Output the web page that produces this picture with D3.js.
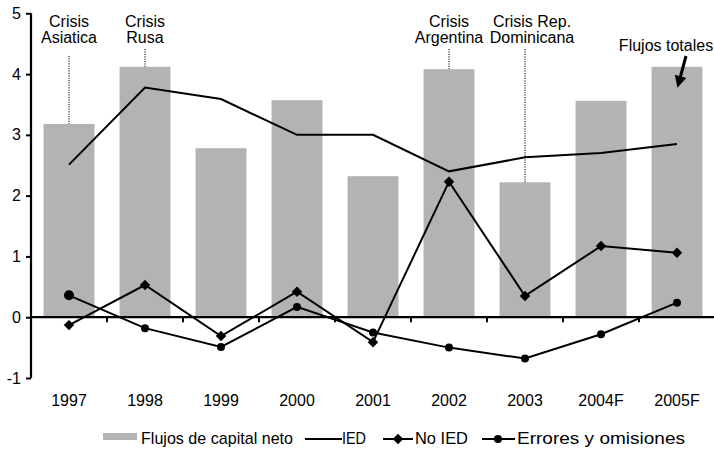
<!DOCTYPE html>
<html>
<head>
<meta charset="utf-8">
<script src="https://cdn.jsdelivr.net/npm/d3@7"></script>
<style>
  html, body { margin: 0; padding: 0; background: #fff; }
  text { font-family: "Liberation Sans", Arial, Helvetica, sans-serif; fill: #000; }
</style>
</head>
<body>
<svg id="chart" width="714" height="452"></svg>
<script>
const categories = ["1997", "1998", "1999", "2000", "2001", "2002", "2003", "2004F", "2005F"];
const flujosNetos = [3.18, 4.12, 2.78, 3.57, 2.32, 4.08, 2.22, 3.56, 4.12];
const ied = [2.51, 3.78, 3.59, 3.00, 3.00, 2.40, 2.63, 2.70, 2.85];
const noIed = [-0.13, 0.53, -0.31, 0.42, -0.41, 2.23, 0.35, 1.17, 1.06];
const errores = [0.36, -0.18, -0.49, 0.17, -0.25, -0.50, -0.68, -0.28, 0.24];
const yTicks = [-1, 0, 1, 2, 3, 4, 5];
const crisisCats = ["1997", "1998", "2002", "2003"];
const crisisLabels = [["Crisis", "Asiatica"], ["Crisis", "Rusa"], ["Crisis", "Argentina"], ["Crisis Rep.", "Dominicana"]];
const legendLabels = ["Flujos de capital neto", "IED", "No IED", "Errores y omisiones"];
const arrowLabel = "Flujos totales";

const FONT = "'Liberation Sans', Arial, Helvetica, sans-serif";
const svg = d3.select("#chart");
const x = d3.scaleBand().domain(categories).range([31, 715]).paddingInner(0.33).paddingOuter(0.165);
const y = d3.scaleLinear().domain([-1, 5]).range([378, 13.3]);
const cx = c => x(c) + x.bandwidth() / 2;

// bars
svg.append("g").selectAll("rect").data(categories).join("rect")
  .attr("x", d => x(d)).attr("width", x.bandwidth())
  .attr("y", (d, i) => y(Math.max(0, flujosNetos[i])))
  .attr("height", (d, i) => Math.abs(y(flujosNetos[i]) - y(0)))
  .attr("fill", "#b3b3b3");

// y axis
const yAxis = svg.append("g").attr("transform", "translate(31,0)")
  .call(d3.axisLeft(y).tickValues(yTicks).tickSize(5).tickPadding(5).tickFormat(d => String(d)));
yAxis.select(".domain").attr("stroke-width", 2.2).attr("d", `M0,${y(5)}V${y(-1)}`);
yAxis.selectAll(".tick line").attr("stroke-width", 2);
yAxis.selectAll(".tick text").attr("font-size", 16).attr("font-family", FONT);

// x axis at zero
const xAxis = svg.append("g").attr("transform", `translate(0,${y(0)})`)
  .call(d3.axisBottom(x).tickSize(0).tickPadding(77));
xAxis.select(".domain").attr("stroke-width", 2.2).attr("d", "M31,0H714");
xAxis.selectAll(".tick text").attr("font-size", 16).attr("font-family", FONT);
// boundary ticks
const step = x.step();
svg.append("g").selectAll("line").data(categories.slice(1)).join("line")
  .attr("x1", d => x(d) - x.paddingInner() * step / 2)
  .attr("x2", d => x(d) - x.paddingInner() * step / 2)
  .attr("y1", y(0)).attr("y2", y(0) + 5)
  .attr("stroke", "#000").attr("stroke-width", 2);

// crisis annotations
crisisCats.forEach((c, i) => {
  const idx = categories.indexOf(c);
  const topY = i === 0 ? 56 : 49;
  svg.append("line").attr("x1", cx(c)).attr("x2", cx(c))
    .attr("y1", topY).attr("y2", y(flujosNetos[idx]))
    .attr("stroke", "#000").attr("stroke-width", 1).attr("stroke-dasharray", "1.2,1.2");
  const t = svg.append("text").attr("text-anchor", "middle").attr("font-size", 16);
  crisisLabels[i].forEach((ln, j) => {
    t.append("tspan").attr("x", cx(c) + (i === 3 ? 7 : 0)).attr("y", 27 + j * 16).text(ln);
  });
});

// lines
const lineGen = d3.line().x((d, i) => cx(categories[i])).y(d => y(d));
[ied, noIed, errores].forEach(s => {
  svg.append("path").datum(s).attr("d", lineGen).attr("fill", "none").attr("stroke", "#000").attr("stroke-width", 2);
});

const diamond = d3.symbol().type(d3.symbolDiamond2).size(70);
svg.append("g").selectAll("path").data(noIed).join("path")
  .attr("d", diamond)
  .attr("transform", (d, i) => `translate(${cx(categories[i])},${y(d)})`)
  .attr("fill", "#000");
svg.append("g").selectAll("circle").data(errores).join("circle")
  .attr("cx", (d, i) => cx(categories[i])).attr("cy", d => y(d))
  .attr("r", (d, i) => i === 0 ? 5 : 4).attr("fill", "#000");

// Flujos totales label + arrow
svg.append("defs").append("marker").attr("id", "ah").attr("viewBox", "0 0 10 10")
  .attr("refX", 5).attr("refY", 5).attr("markerWidth", 4).attr("markerHeight", 4).attr("orient", "auto")
  .append("path").attr("d", "M0,0L10,5L0,10z").attr("fill", "#000");
svg.append("text").attr("x", 666).attr("y", 51).attr("text-anchor", "middle").attr("font-size", 16).text(arrowLabel);
svg.append("line").attr("x1", 686).attr("y1", 56).attr("x2", 679).attr("y2", 82)
  .attr("stroke", "#000").attr("stroke-width", 3).attr("marker-end", "url(#ah)");

// legend
const ly = 439;
const lg = svg.append("g").attr("font-size", 17);
lg.append("rect").attr("x", 103).attr("y", ly - 6).attr("width", 34).attr("height", 7).attr("fill", "#b3b3b3");
lg.append("text").attr("x", 141).attr("y", 444).attr("textLength", 152).attr("lengthAdjust", "spacingAndGlyphs").text(legendLabels[0]);
lg.append("line").attr("x1", 305).attr("x2", 342).attr("y1", ly).attr("y2", ly).attr("stroke", "#000").attr("stroke-width", 2);
lg.append("text").attr("x", 342).attr("y", 444).attr("textLength", 24).attr("lengthAdjust", "spacingAndGlyphs").text(legendLabels[1]);
lg.append("line").attr("x1", 383).attr("x2", 413).attr("y1", ly).attr("y2", ly).attr("stroke", "#000").attr("stroke-width", 2);
lg.append("path").attr("d", diamond).attr("transform", `translate(398,${ly})`).attr("fill", "#000");
lg.append("text").attr("x", 415).attr("y", 444).attr("textLength", 53).attr("lengthAdjust", "spacingAndGlyphs").text(legendLabels[2]);
lg.append("line").attr("x1", 482).attr("x2", 515).attr("y1", ly).attr("y2", ly).attr("stroke", "#000").attr("stroke-width", 2);
lg.append("circle").attr("cx", 498).attr("cy", ly).attr("r", 4).attr("fill", "#000");
lg.append("text").attr("x", 517).attr("y", 444).attr("textLength", 168).attr("lengthAdjust", "spacingAndGlyphs").text(legendLabels[3]);
</script>
</body>
</html>
